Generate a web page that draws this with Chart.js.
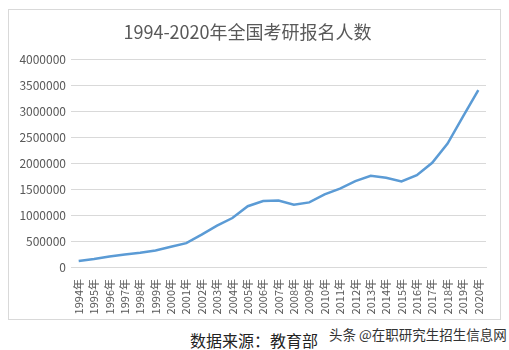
<!DOCTYPE html>
<html lang="zh">
<head>
<meta charset="UTF-8">
<title>1994-2020年全国考研报名人数</title>
<script src="https://cdn.jsdelivr.net/npm/chart.js"></script>
<style>
  body { margin: 0; background: #fff; width: 509px; height: 350px; position: relative; overflow: hidden; }
  #box { position: absolute; left: 8px; top: 9px; width: 491px; height: 309px; border: 1px solid #d9d9d9; }
  #source { position: absolute; left: 190px; top: 328px; font: 16px "Noto Sans CJK SC", sans-serif; color: #222; }
  #mark { position: absolute; left: 329px; top: 324px; font: 13.5px "Noto Sans CJK SC", sans-serif; color: #333;
          text-shadow: 0 0 2px #fff; }
</style>
</head>
<body>
<div id="box"><canvas id="chartCanvas" width="491" height="309"></canvas></div>
<div id="source">数据来源：教育部</div>
<div id="mark">头条 @在职研究生招生信息网</div>

<script>
  const years = ['1994年','1995年','1996年','1997年','1998年','1999年','2000年','2001年','2002年',
    '2003年','2004年','2005年','2006年','2007年','2008年','2009年','2010年','2011年','2012年',
    '2013年','2014年','2015年','2016年','2017年','2018年','2019年','2020年'];
  const applicants = [114000, 155000, 204000, 242000, 274000, 319000, 392000, 460000, 624000,
    797000, 945000, 1172000, 1271200, 1282000, 1200000, 1246000, 1400000, 1511000, 1656000,
    1760000, 1720000, 1649000, 1770000, 2010000, 2380000, 2900000, 3410000];

  const tickFont = { family: '"Noto Sans CJK SC", sans-serif', size: 12 };

  const ctx = document.getElementById('chartCanvas').getContext('2d');
  new Chart(ctx, {
    type: 'line',
    data: {
      labels: years,
      datasets: [{
        data: applicants,
        borderColor: '#5b9bd5',
        borderWidth: 2.5,
        pointRadius: 0,
        tension: 0,
        fill: false
      }]
    },
    options: {
      responsive: false,
      animation: false,
      layout: { padding: { left: 0, right: 14, top: 0, bottom: 0 } },
      plugins: {
        legend: { display: false },
        tooltip: { enabled: false },
        title: {
          display: true,
          text: '1994-2020年全国考研报名人数',
          color: '#595959',
          font: { family: '"Noto Sans CJK SC", sans-serif', size: 18, weight: 'normal' },
          padding: { top: 11, bottom: 17 }
        }
      },
      scales: {
        x: {
          offset: true,
          grid: { display: false },
          border: { display: true, color: '#d9d9d9' },
          ticks: {
            color: '#595959',
            font: { family: '"Noto Sans CJK SC", sans-serif', size: 11 },
            maxRotation: 90,
            minRotation: 90,
            autoSkip: false,
            padding: 4
          },
          afterFit: s => { s.height = 52; }
        },
        y: {
          min: 0,
          max: 4000000,
          grid: { color: '#d9d9d9', drawTicks: false },
          border: { display: false },
          ticks: {
            stepSize: 500000,
            color: '#595959',
            font: tickFont,
            padding: 5,
            callback: v => String(v)
          },
          afterFit: s => { s.width = 62; }
        }
      }
    }
  });
</script>
</body>
</html>
